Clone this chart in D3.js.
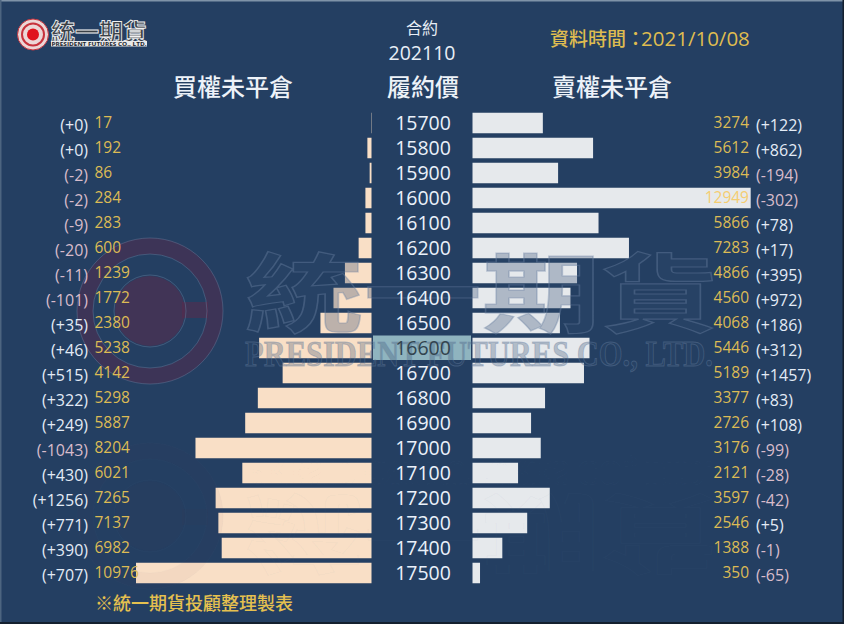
<!DOCTYPE html>
<html>
<head>
<meta charset="utf-8">
<script src="https://cdn.jsdelivr.net/npm/d3@7"></script>
<style>
html, body { margin: 0; padding: 0; background: #243f62; overflow: hidden; }
text { font-family: "Noto Sans CJK TC", "Noto Sans", sans-serif; }
.num { font-family: "Open Sans", "Noto Sans", sans-serif; }
</style>
</head>
<body>
<svg id="chart" width="844" height="624"></svg>
<script>
var strikes = [15700,15800,15900,16000,16100,16200,16300,16400,16500,16600,16700,16800,16900,17000,17100,17200,17300,17400,17500];
var callOI = [17,192,86,284,283,600,1239,1772,2380,5238,4142,5298,5887,8204,6021,7265,7137,6982,10976];
var callChange = [0,0,-2,-2,-9,-20,-11,-101,35,46,515,322,249,-1043,430,1256,771,390,707];
var putOI = [3274,5612,3984,12949,5866,7283,4866,4560,4068,5446,5189,3377,2726,3176,2121,3597,2546,1388,350];
var putChange = [122,862,-194,-302,78,17,395,972,186,312,1457,83,108,-99,-28,-42,5,-1,-65];
var currentStrike = 16600;

var width = 844, height = 624;
var svg = d3.select("#chart");

var fmtChange = function (d) { return "(" + (d >= 0 ? "+" : "") + d + ")"; };
var changeColor = function (d) { return d >= 0 ? "#e3ebf6" : "#d8bccb"; };

var y = d3.scaleBand().domain(strikes).range([110.5, 585.5]).paddingInner(0.18).paddingOuter(0.09);
var xCall = d3.scaleLinear().domain([0, 10976]).range([371.5, 136]);
var xPut = d3.scaleLinear().domain([0, 12949]).range([472.5, 750.7]);
var mid = function (d) { return y(d) + y.bandwidth() / 2; };

// background and frame
svg.append("rect").attr("width", width).attr("height", height).attr("fill", "#243f62");
svg.append("rect").attr("width", width).attr("height", 1.5).attr("fill", "#7f93a8");
svg.append("rect").attr("width", 1.5).attr("height", height).attr("fill", "#4d6580");
svg.append("rect").attr("y", height - 2).attr("width", width).attr("height", 2).attr("fill", "#14202f");
svg.append("rect").attr("x", width - 1.5).attr("width", 1.5).attr("height", height).attr("fill", "#14202f");

// bars
svg.append("g").selectAll("rect").data(strikes).enter().append("rect")
    .attr("x", function (d, i) { return xCall(callOI[i]); })
    .attr("y", function (d) { return y(d); })
    .attr("width", function (d, i) { return xCall(0) - xCall(callOI[i]); })
    .attr("height", y.bandwidth())
    .attr("fill", "#f9dfc6");

svg.append("g").selectAll("rect").data(strikes).enter().append("rect")
    .attr("x", xPut(0))
    .attr("y", function (d) { return y(d); })
    .attr("width", function (d, i) { return xPut(putOI[i]) - xPut(0); })
    .attr("height", y.bandwidth())
    .attr("fill", "#e6e9ec");

// current strike highlight
svg.append("rect").attr("x", 373).attr("y", mid(currentStrike) - 12.5)
    .attr("width", 98).attr("height", 24.5).attr("fill", "#8fb4bf");

// watermark, drawn once normal and once flipped below
function drawWatermark(g, fillOp, strokeOp) {
    var purple = "#5a2a4c", line = "#6d84a4";
    g.append("circle").attr("cx", 150).attr("cy", 311).attr("r", 65)
        .attr("fill", "none").attr("stroke", purple).attr("stroke-width", 16).attr("opacity", fillOp * 1.6);
    g.append("circle").attr("cx", 150).attr("cy", 311).attr("r", 35)
        .attr("fill", purple).attr("opacity", fillOp * 1.8);
    g.append("rect").attr("x", 182).attr("y", 302).attr("width", 26).attr("height", 16)
        .attr("fill", purple).attr("opacity", fillOp * 1.8);
    g.append("circle").attr("cx", 150).attr("cy", 311).attr("r", 73)
        .attr("fill", "none").attr("stroke", line).attr("stroke-width", 1).attr("opacity", strokeOp);
    g.append("circle").attr("cx", 150).attr("cy", 311).attr("r", 57)
        .attr("fill", "none").attr("stroke", line).attr("stroke-width", 1).attr("opacity", strokeOp);
    g.append("circle").attr("cx", 150).attr("cy", 311).attr("r", 36)
        .attr("fill", "none").attr("stroke", line).attr("stroke-width", 1).attr("opacity", strokeOp);
    g.append("text").attr("x", 245).attr("y", 326).attr("font-size", 86).attr("font-weight", 700)
        .attr("textLength", 474).attr("lengthAdjust", "spacingAndGlyphs")
        .attr("fill", "#2f4a6e").attr("fill-opacity", fillOp)
        .attr("stroke", line).attr("stroke-opacity", strokeOp).attr("stroke-width", 1.2)
        .text("統一期貨");
    g.append("text").attr("x", 245).attr("y", 366).attr("font-size", 36).attr("font-weight", 700)
        .style("font-family", "'Liberation Serif', serif")
        .attr("textLength", 468).attr("lengthAdjust", "spacingAndGlyphs")
        .attr("fill", "#2f4a6e").attr("fill-opacity", fillOp)
        .attr("stroke", line).attr("stroke-opacity", strokeOp).attr("stroke-width", 1)
        .text("PRESIDENT FUTURES CO., LTD.");
}
drawWatermark(svg.append("g"), 0.3, 0.4);
drawWatermark(svg.append("g").attr("transform", "translate(0,827) scale(1,-1)"), 0.025, 0.035);

// strike column
svg.append("g").selectAll("text").data(strikes).enter().append("text")
    .attr("class", "num")
    .attr("x", 423).attr("y", function (d) { return mid(d) + 7; })
    .attr("text-anchor", "middle").attr("font-size", 19.5)
    .attr("fill", function (d) { return d === currentStrike ? "#32444f" : "#eaf1fa"; })
    .text(function (d) { return d; });

// call labels
svg.append("g").selectAll("text").data(strikes).enter().append("text")
    .attr("class", "num")
    .attr("x", 94.5).attr("y", function (d) { return mid(d) + 5; })
    .attr("font-size", 15.5).attr("font-weight", 500).attr("fill", "#dcbb55")
    .text(function (d, i) { return callOI[i]; });
svg.append("g").selectAll("text").data(strikes).enter().append("text")
    .attr("class", "num")
    .attr("x", 88).attr("y", function (d) { return mid(d) + 7.5; })
    .attr("text-anchor", "end").attr("font-size", 16)
    .attr("fill", function (d, i) { return changeColor(callChange[i]); })
    .text(function (d, i) { return fmtChange(callChange[i]); });

// put labels
svg.append("g").selectAll("text").data(strikes).enter().append("text")
    .attr("class", "num")
    .attr("x", 749).attr("y", function (d) { return mid(d) + 5; })
    .attr("text-anchor", "end").attr("font-size", 15.5).attr("font-weight", 500)
    .attr("fill", function (d, i) { return i === 3 ? "#f5cd70" : "#dcbb55"; })
    .text(function (d, i) { return putOI[i]; });
svg.append("g").selectAll("text").data(strikes).enter().append("text")
    .attr("class", "num")
    .attr("x", 756).attr("y", function (d) { return mid(d) + 7.5; })
    .attr("font-size", 16)
    .attr("fill", function (d, i) { return changeColor(putChange[i]); })
    .text(function (d, i) { return fmtChange(putChange[i]); });

// titles
var title = function (x, yy, size, color, txt, anchor) {
    return svg.append("text").attr("x", x).attr("y", yy).attr("font-size", size)
        .attr("fill", color).attr("text-anchor", anchor || "middle").text(txt);
};
title(233, 96, 24, "#edf2f8", "買權未平倉").attr("font-weight", 500);
title(423, 96, 24, "#edf2f8", "履約價").attr("font-weight", 500);
title(612, 96, 24, "#edf2f8", "賣權未平倉").attr("font-weight", 500);
title(422, 34, 16, "#e8eef6", "合約");
title(422, 60, 19.5, "#e8eef6", "202110").attr("class", "num");
var stamp = title(550, 46, 19, "#dfbc50", "資料時間：", "start").attr("font-weight", 500);
stamp.append("tspan").attr("dx", -4).attr("font-size", 20.5).attr("class", "num").text("2021/10/08");
title(95, 610, 18, "#e5c04f", "※統一期貨投顧整理製表", "start").attr("font-weight", 500);

// company logo
var logo = svg.append("g");
logo.append("circle").attr("cx", 33).attr("cy", 34.5).attr("r", 15.5).attr("fill", "#ecd6d6").attr("stroke", "#c8323c").attr("stroke-width", 1);
logo.append("circle").attr("cx", 33).attr("cy", 34.5).attr("r", 11).attr("fill", "none").attr("stroke", "#c8323c").attr("stroke-width", 2);
logo.append("circle").attr("cx", 33).attr("cy", 34.5).attr("r", 6).attr("fill", "#e0121c");
logo.append("text").attr("x", 51).attr("y", 40).attr("font-size", 23).attr("font-weight", 700)
    .attr("textLength", 96).attr("lengthAdjust", "spacingAndGlyphs")
    .attr("fill", "#3a4046").attr("stroke", "#f2f2f2").attr("stroke-width", 0.8)
    .text("統一期貨");
logo.append("rect").attr("x", 51).attr("y", 41).attr("width", 96).attr("height", 5.5).attr("fill", "#e8e8e8");
logo.append("text").attr("x", 51.5).attr("y", 46).attr("font-size", 6).attr("font-weight", 700).attr("class", "num")
    .attr("textLength", 95).attr("lengthAdjust", "spacingAndGlyphs")
    .attr("fill", "#20242c").text("PRESIDENT FUTURES CO., LTD.");
</script>
</body>
</html>
